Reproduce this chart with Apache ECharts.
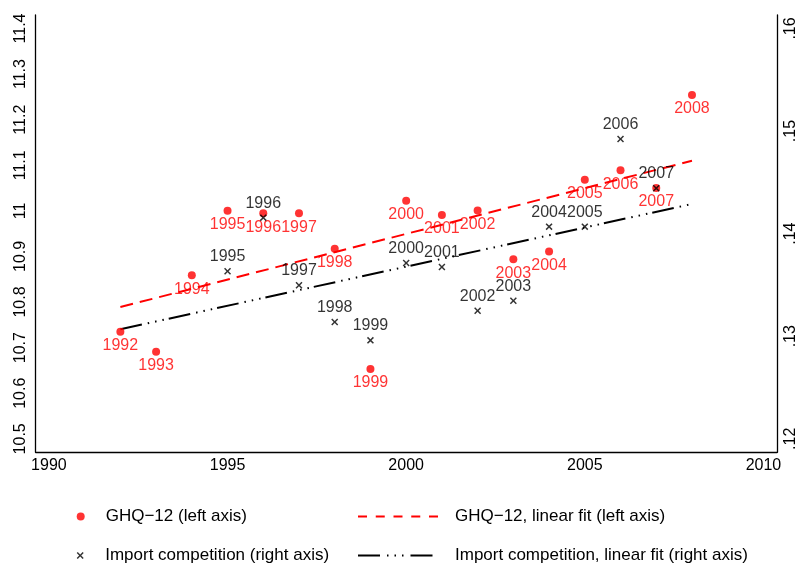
<!DOCTYPE html>
<html>
<head>
<meta charset="utf-8">
<script src="https://cdn.jsdelivr.net/npm/echarts@6/dist/echarts.min.js"></script>
<style>
  html, body { margin: 0; padding: 0; background: #fff; }
  #chart { width: 799px; height: 563px; }
</style>
</head>
<body>
<div id="chart"></div>
<script>
// Survey years
const ghqYears = [1992, 1993, 1994, 1995, 1996, 1997, 1998, 1999, 2000, 2001, 2002, 2003, 2004, 2005, 2006, 2007, 2008];
// GHQ-12 score (left axis)
const ghqValues = [10.735, 10.691, 10.859, 11.000, 10.995, 10.995, 10.917, 10.653, 11.022, 10.991, 11.001, 10.894, 10.911, 11.068, 11.089, 11.050, 11.254];
// Linear fit of GHQ-12, end points
const ghqFitYears = [1992, 2008];
const ghqFitValues = [10.789, 11.110];

// Import competition (right axis)
const impYears = [1995, 1996, 1997, 1998, 1999, 2000, 2001, 2002, 2003, 2004, 2005, 2006, 2007];
const impValues = [0.13633, 0.14156, 0.13497, 0.13139, 0.12960, 0.13714, 0.13675, 0.13249, 0.13346, 0.14068, 0.14068, 0.14923, 0.14442];
// Linear fit of import competition, end points
const impFitYears = [1992, 2008];
const impFitValues = [0.13068, 0.14289];

// Tick labels
const xTicks = [1990, 1995, 2000, 2005, 2010];
const leftTicks = [10.5, 10.6, 10.7, 10.8, 10.9, 11, 11.1, 11.2, 11.3, 11.4];
const rightTicks = [0.12, 0.13, 0.14, 0.15, 0.16];

const names = {
  ghq: 'GHQ\u221212 (left axis)',
  ghqFit: 'GHQ\u221212, linear fit (left axis)',
  imp: 'Import competition (right axis)',
  impFit: 'Import competition, linear fit (right axis)'
};

const FONT = '"Liberation Sans", Arial, sans-serif';
const crossPath = 'path://M1.5,0 L5,3.5 L8.5,0 L10,1.5 L6.5,5 L10,8.5 L8.5,10 L5,6.5 L1.5,10 L0,8.5 L3.5,5 L0,1.5 Z';
const redDash = [13, 7];
const blackDashDot = [22, 6, 1.5, 6, 1.5, 6, 1.5, 5];

const pairs = (xs, ys) => xs.map((x, i) => [x, ys[i]]);

const chart = echarts.init(document.getElementById('chart'), null, { renderer: 'canvas' });

const legendText = { fontFamily: FONT, fontSize: 17, color: '#000' };
const hiddenMarker = { color: 'rgba(0,0,0,0)', borderWidth: 0, opacity: 0 };

chart.setOption({
  animation: false,
  backgroundColor: '#fff',
  textStyle: { fontFamily: FONT },
  grid: { left: 35.7, right: 17.3, top: 15, bottom: 110.7, containLabel: false },
  xAxis: {
    type: 'value',
    min: 1989.63,
    max: 2010.38,
    axisLine: { show: true, lineStyle: { color: '#000', width: 1.3 } },
    axisTick: { show: false },
    splitLine: { show: false },
    axisLabel: {
      customValues: xTicks,
      color: '#000', fontSize: 16, fontFamily: FONT, margin: 5,
      formatter: v => String(v)
    }
  },
  yAxis: [
    {
      type: 'value',
      position: 'left',
      min: 10.4704,
      max: 11.4296,
      axisLine: { show: true, lineStyle: { color: '#000', width: 1.3 } },
      axisTick: { show: false },
      splitLine: { show: false },
      axisLabel: {
        customValues: leftTicks,
        rotate: 90,
        color: '#000', fontSize: 16, fontFamily: FONT, margin: 7,
        formatter: v => String(Math.round(v * 10) / 10)
      }
    },
    {
      type: 'value',
      position: 'right',
      min: 0.118684,
      max: 0.161316,
      axisLine: { show: true, lineStyle: { color: '#000', width: 1.3 } },
      axisTick: { show: false },
      splitLine: { show: false },
      axisLabel: {
        customValues: rightTicks,
        rotate: 90,
        color: '#000', fontSize: 16, fontFamily: FONT, margin: 6,
        formatter: v => '.' + String(Math.round(v * 100))
      }
    }
  ],
  legend: [
    {
      data: [names.ghq], left: 71.7, top: 503, icon: 'circle',
      itemWidth: 40, itemHeight: 8, textStyle: legendText
    },
    {
      data: [names.ghqFit], left: 352, top: 503,
      itemWidth: 80, itemHeight: 14,
      itemStyle: hiddenMarker,
      lineStyle: { type: [9, 8.75], width: 2 },
      textStyle: Object.assign({ padding: [0, 0, 0, 12] }, legendText)
    },
    {
      data: [names.imp], left: 71.7, top: 542, icon: crossPath,
      itemWidth: 40, itemHeight: 7, textStyle: legendText
    },
    {
      data: [names.impFit], left: 352, top: 542,
      itemWidth: 80, itemHeight: 14,
      itemStyle: hiddenMarker,
      lineStyle: { type: [22, 7, 1.5, 6, 1.5, 6, 1.5, 7], width: 2 },
      textStyle: Object.assign({ padding: [0, 0, 0, 12] }, legendText)
    }
  ],
  series: [
    {
      name: names.ghqFit,
      type: 'line',
      yAxisIndex: 0,
      data: pairs(ghqFitYears, ghqFitValues),
      showSymbol: false,
      symbol: 'none',
      color: '#ff0000',
      lineStyle: { color: '#ff0000', width: 2, type: redDash },
      z: 2
    },
    {
      name: names.impFit,
      type: 'line',
      yAxisIndex: 1,
      data: pairs(impFitYears, impFitValues),
      showSymbol: false,
      symbol: 'none',
      color: '#000',
      lineStyle: { color: '#000', width: 2, type: blackDashDot },
      z: 2
    },
    {
      name: names.ghq,
      type: 'scatter',
      yAxisIndex: 0,
      data: pairs(ghqYears, ghqValues),
      symbol: 'circle',
      symbolSize: 8,
      itemStyle: { color: '#ff0000' },
      label: {
        show: true, position: 'bottom', distance: 2,
        formatter: p => String(p.value[0]),
        color: '#ff0000', fontSize: 16, fontFamily: FONT
      },
      z: 3
    },
    {
      name: names.imp,
      type: 'scatter',
      yAxisIndex: 1,
      data: pairs(impYears, impValues),
      symbol: crossPath,
      symbolSize: 7,
      itemStyle: { color: '#000' },
      label: {
        show: true, position: 'top', distance: 3,
        formatter: p => String(p.value[0]),
        color: '#000', fontSize: 16, fontFamily: FONT
      },
      z: 4
    }
  ]
});
</script>
</body>
</html>
